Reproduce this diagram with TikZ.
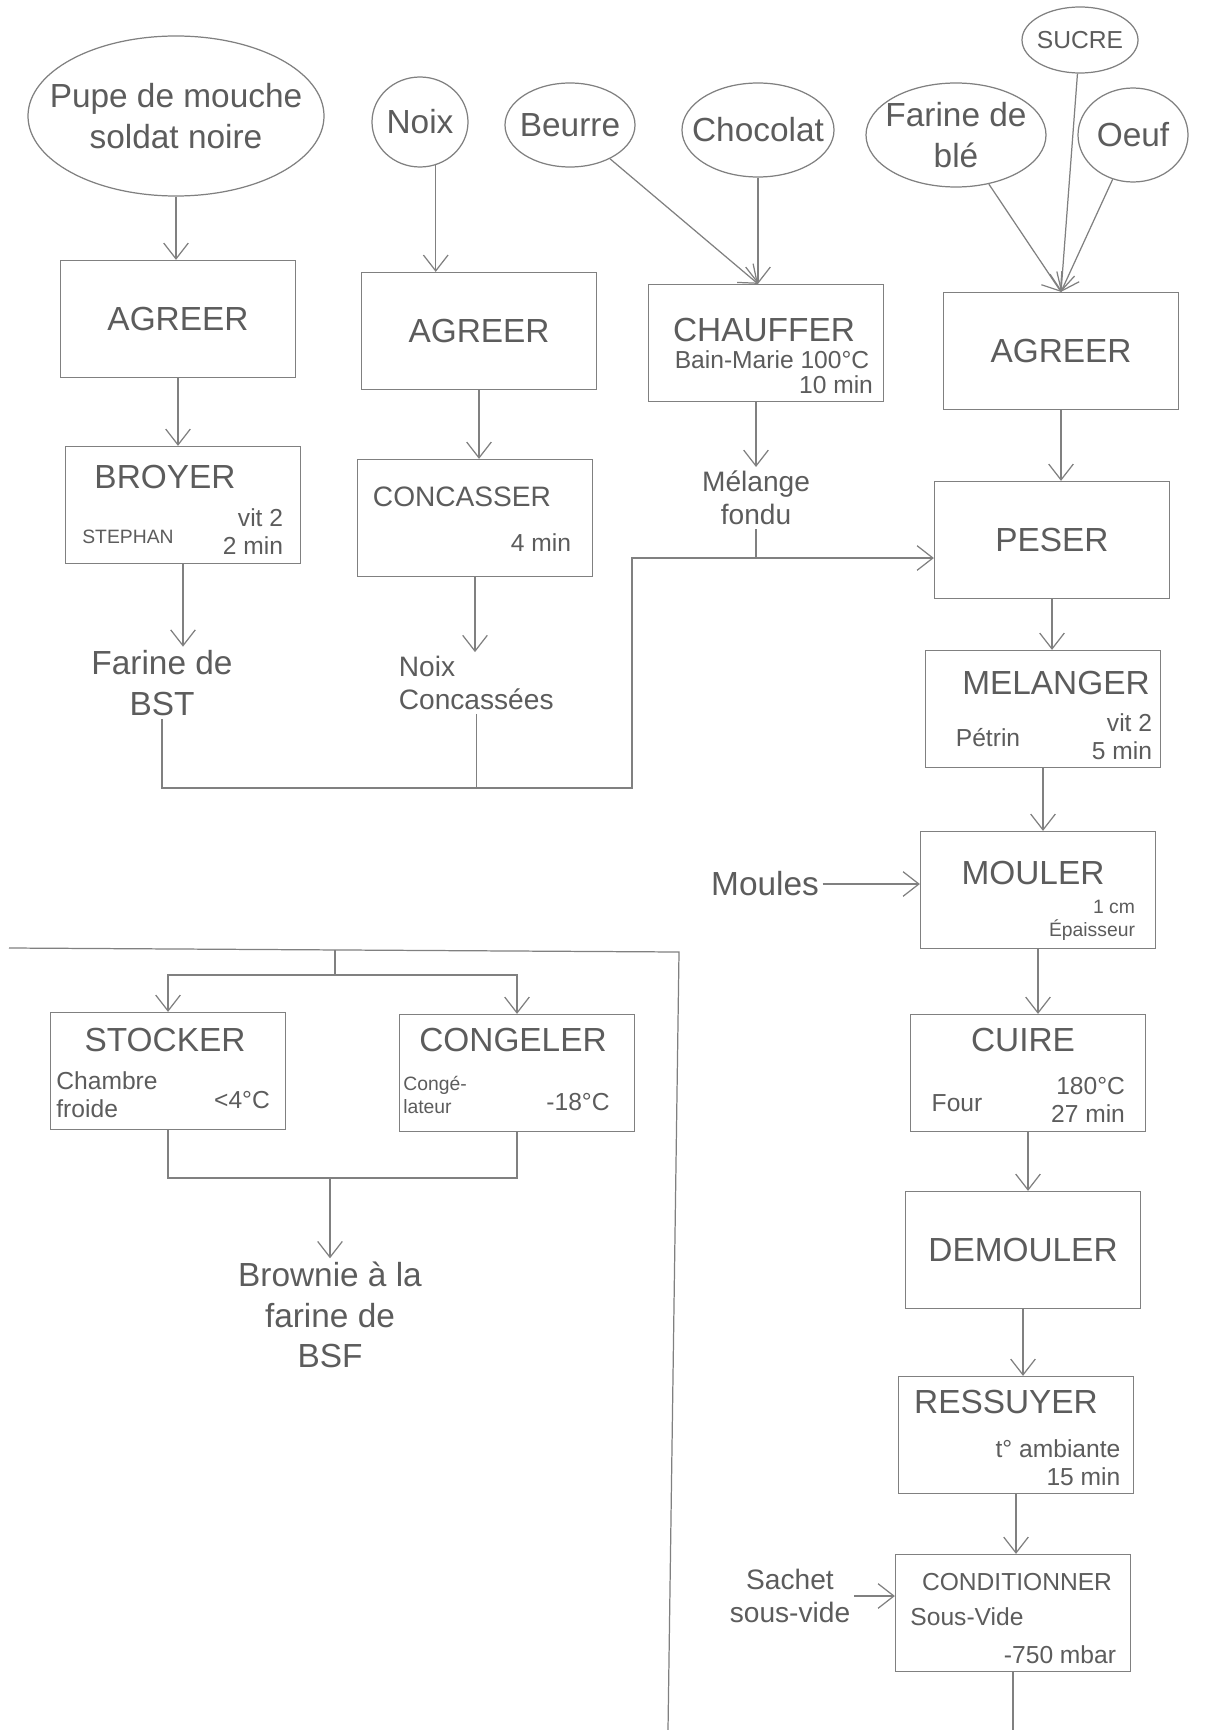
\documentclass[tikz,border=0pt]{standalone}
\usepackage{fontspec}
\setmainfont{Liberation Sans}
\usetikzlibrary{arrows.meta,shapes.geometric}
\definecolor{crayon}{gray}{0.5}
\definecolor{mine}{gray}{0.36}
\newcommand{\fgrand}{\fontsize{19}{23}\selectfont}
\newcommand{\fmoyen}{\fontsize{16}{19}\selectfont}
\newcommand{\fpetit}{\fontsize{14}{16}\selectfont}
\newcommand{\fmini}{\fontsize{11}{13}\selectfont}
\tikzset{
	boite/.style={draw=crayon, line width=0.7pt, minimum width=47mm, minimum height=23.4mm, inner sep=0pt, text=mine, font=\fgrand},
	ingredient/.style={ellipse, draw=crayon, line width=0.7pt, inner sep=0pt},
	texte/.style={text=mine, font=\fgrand, align=center, inner sep=2pt},
	fleche/.style={draw=crayon, line width=0.7pt, -{Straight Barb[length=9pt,width=14pt]}},
	trait/.style={draw=crayon, line width=0.7pt},
}
\begin{document}
\begin{tikzpicture}[x=0.2mm, y=-0.2mm]
	\fill[white] (0,0) rectangle (1206,1730);
	\useasboundingbox (0,0) rectangle (1206,1730);
	% ingredients
	\node[ingredient, minimum width=59.2mm, minimum height=32mm] (pupe) at (176,116) {};
	\node[texte] (tpupe) at (pupe) {Pupe de mouche\\soldat noire};
	\node[ingredient, minimum width=19.2mm, minimum height=18mm] (noix) at (420,122) {};
	\node[texte] (tnoix) at (noix) {Noix};
	\node[ingredient, minimum width=26mm, minimum height=16.8mm] (beurre) at (570,125) {};
	\node[texte] (tbeurre) at (beurre) {Beurre};
	\node[ingredient, minimum width=30.4mm, minimum height=18.8mm] (chocolat) at (758,130) {};
	\node[texte] (tchocolat) at (chocolat) {Chocolat};
	\node[ingredient, minimum width=36mm, minimum height=20.8mm] (farineble) at (956,135) {};
	\node[texte] (tfarineble) at (farineble) {Farine de\\blé};
	\node[ingredient, minimum width=23.2mm, minimum height=13.2mm] (sucre) at (1080,40) {};
	\node[texte, font=\fpetit] (tsucre) at (sucre) {SUCRE};
	\node[ingredient, minimum width=22mm, minimum height=18.8mm] (oeuf) at (1133,135) {};
	\node[texte] (toeuf) at (oeuf) {Oeuf};

	% etapes
	\node[boite] (agreerA) at (178,319) {AGREER};
	\node[boite] (broyer) at (183,505) {};
	\node[texte] (tbroyer) at (165,477) {BROYER};
	\node[texte, font=\fmini] (dbroyerA) at (128,537) {STEPHAN};
	\node[texte, font=\fpetit, align=right] (dbroyerB) at (253,532) {vit 2\\2 min};

	\node[boite] (agreerB) at (479,331) {AGREER};
	\node[boite] (concasser) at (475,518) {};
	\node[texte, font=\fmoyen] (tconcasser) at (462,497) {CONCASSER};
	\node[texte, font=\fpetit] (dconcasser) at (541,543) {4 min};

	\node[boite] (chauffer) at (766,343) {};
	\node[texte] (tchauffer) at (764,330) {CHAUFFER};
	\node[texte, font=\fpetit] (dchaufferA) at (772,360) {Bain-Marie 100°C};
	\node[texte, font=\fpetit] (dchaufferB) at (836,385) {10 min};

	\node[boite] (agreerC) at (1061,351) {AGREER};
	\node[boite] (peser) at (1052,540) {PESER};

	\node[boite] (melanger) at (1043,709) {};
	\node[texte] (tmelanger) at (1056,683) {MELANGER};
	\node[texte, font=\fpetit] (dmelangerA) at (988,738) {Pétrin};
	\node[texte, font=\fpetit, align=right] (dmelangerB) at (1122,737) {vit 2\\5 min};

	\node[boite] (mouler) at (1038,890) {};
	\node[texte] (tmouler) at (1033,873) {MOULER};
	\node[texte, font=\fmini, align=right] (dmouler) at (1092,920) {1 cm\\Épaisseur};

	\node[boite] (cuire) at (1028,1073) {};
	\node[texte] (tcuire) at (1023,1040) {CUIRE};
	\node[texte, font=\fpetit] (dcuireA) at (957,1103) {Four};
	\node[texte, font=\fpetit, align=right] (dcuireB) at (1088,1100) {180°C\\27 min};

	\node[boite] (demouler) at (1023,1250) {DEMOULER};

	\node[boite] (ressuyer) at (1016,1435) {};
	\node[texte] (tressuyer) at (1006,1402) {RESSUYER};
	\node[texte, font=\fpetit, align=right] (dressuyer) at (1058,1463) {t° ambiante\\15 min};

	\node[boite] (conditionner) at (1013,1613) {};
	\node[texte, font=\fpetit] (tconditionner) at (1017,1582) {CONDITIONNER};
	\node[texte, font=\fpetit] (dconditionnerA) at (967,1617) {Sous-Vide};
	\node[texte, font=\fpetit] (dconditionnerB) at (1060,1655) {-750 mbar};

	\node[boite] (stocker) at (168,1071) {};
	\node[texte] (tstocker) at (165,1040) {STOCKER};
	\node[texte, font=\fpetit, align=left] (dstockerA) at (107,1095) {Chambre\\froide};
	\node[texte, font=\fpetit] (dstockerB) at (242,1100) {<4°C};

	\node[boite] (congeler) at (517,1073) {};
	\node[texte] (tcongeler) at (513,1040) {CONGELER};
	\node[texte, font=\fmini, align=left] (dcongelerA) at (435,1095) {Congé-\\lateur};
	\node[texte, font=\fpetit] (dcongelerB) at (578,1102) {-18°C};

	% produits
	\node[texte] (farineBST) at (162,683) {Farine de\\BST};
	\node[texte, font=\fmoyen, align=left, anchor=west] (noixC) at (395,683) {Noix\\Concassées};
	\node[texte, font=\fmoyen] (melange) at (756,498) {Mélange\\fondu};
	\node[texte] (moules) at (765,884) {Moules};
	\node[texte, font=\fmoyen] (sachet) at (790,1596) {Sachet\\sous-vide};
	\node[texte] (brownie) at (330,1315) {Brownie à la\\farine de\\BSF};

	% fleches
	\foreach \a/\b in {agreerA/broyer, agreerB/concasser, agreerC/peser, peser/melanger, melanger/mouler, mouler/cuire, cuire/demouler, demouler/ressuyer, ressuyer/conditionner}
		\draw[fleche] (\a.south) -- (\a.south |- \b.north);
	\draw[fleche] (pupe) -- (pupe |- agreerA.north);
	\draw[fleche] (noix.-70) -- (noix.-70 |- agreerB.north);
	\coordinate (cible) at (chocolat |- chauffer.north);
	\draw[fleche] (beurre) -- (cible);
	\draw[fleche] (chocolat) -- (cible);
	\draw[fleche] (farineble) -- (agreerC.north);
	\draw[fleche] (sucre) -- (agreerC.north);
	\draw[fleche] (oeuf) -- (agreerC.north);
	\draw[fleche] (broyer.south) -- (broyer.south |- farineBST.north);
	\draw[fleche] (concasser.south) -- (concasser.south |- noixC.north);
	\draw[fleche] (melange.north |- chauffer.south) -- (melange.north);

	% reunion vers PESER
	\coordinate (j1) at (632,788);
	\coordinate (j2) at (632,558);
	\draw[fleche] (farineBST.south) |- (j1) -- (j2) -- (j2 -| peser.west);
	\draw[trait] (noixC.south) -- (noixC.south |- j1);
	\draw[trait] (melange.south) -- (melange.south |- j2);

	\draw[fleche] (moules.east) -- (moules.east -| mouler.west);
	\draw[fleche] (sachet.east) -- (sachet.east -| conditionner.west);
	\coordinate (fin) at (1013,1730);
	\draw[trait] (conditionner.south) -- (fin);

	% retour et stockage
	\coordinate (bord) at (9,948);
	\coordinate (coin) at (679,952);
	\coordinate (retour) at (668,1730);
	\draw[trait] (bord) -- (coin) -- (retour);
	\coordinate (split) at (335,950);
	\coordinate (s1) at (335,975);
	\draw[trait] (split) -- (s1);
	\draw[fleche] (s1) -| (stocker.north);
	\draw[fleche] (s1) -| (congeler.north);
	\coordinate (j3) at (330,1178);
	\draw[trait] (stocker.south) |- (j3) -| (congeler.south);
	\draw[fleche] (j3) -- (j3 |- brownie.north);
\end{tikzpicture}
\end{document}
